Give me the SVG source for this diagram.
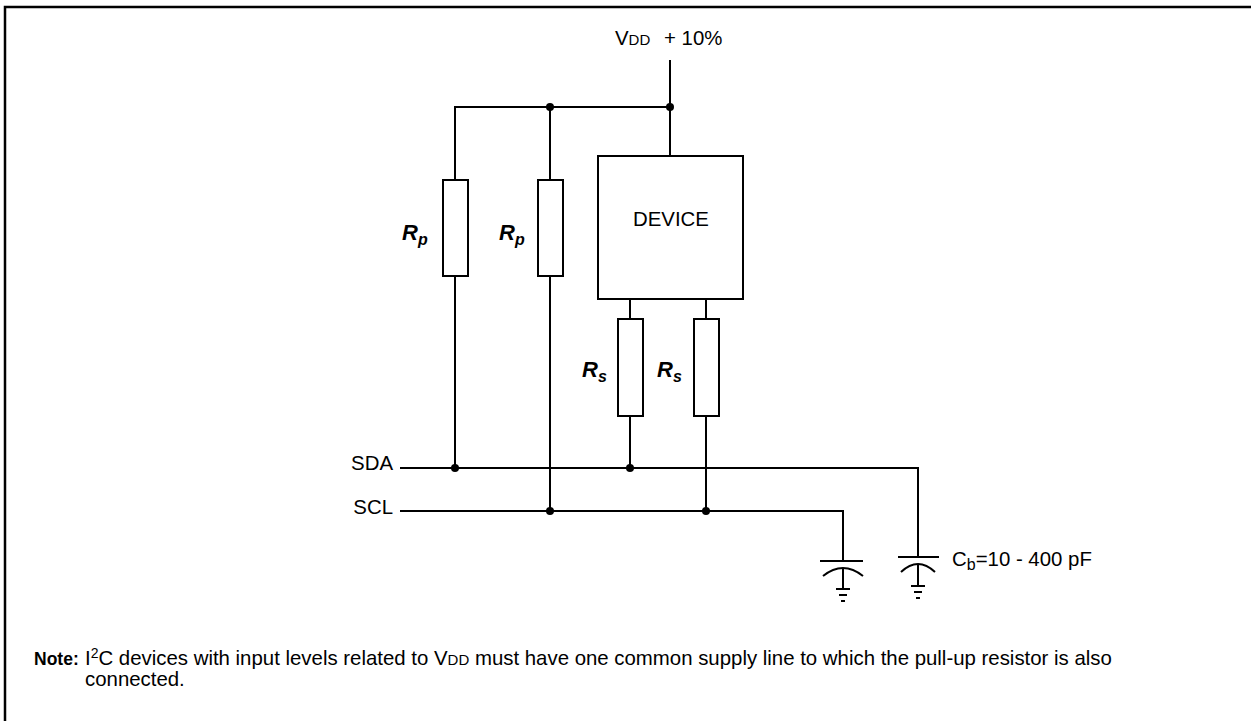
<svg xmlns="http://www.w3.org/2000/svg" width="1251" height="721" viewBox="0 0 1251 721">
<style>
  .w { fill: none; stroke: #000; stroke-width: 2; }
  .r { fill: #fff; stroke: #000; stroke-width: 2; }
  .d { fill: #000; }
  text { font-family: "Liberation Sans", Arial, sans-serif; font-size: 20.4px; fill: #000; }
  .lab { font-weight: bold; font-style: italic; font-size: 22px; }
  .sub { font-size: 16px; }
  .sc { font-size: 15px; }
  .note { font-weight: bold; font-size: 17.5px; }
</style>
<rect x="0" y="0" width="1251" height="721" fill="#fff"/>
<path d="M5,721 V7 H1251" fill="none" stroke="#000" stroke-width="2.5"/>

<g id="connectors">
  <path class="w" d="M670,60 V156"/>
  <path class="w" d="M455,180 V107 H670"/>
  <path class="w" d="M550,107 V180"/>
  <path class="w" d="M455,276 V468"/>
  <path class="w" d="M550,276 V511"/>
  <path class="w" d="M630,299 V319 M630,416 V468"/>
  <path class="w" d="M706,299 V319 M706,416 V511"/>
  <path class="w" d="M400,468 H918 V557"/>
  <path class="w" d="M400,511 H843 V561"/>
  <circle class="d" cx="670" cy="107" r="4"/>
  <circle class="d" cx="550" cy="107" r="4"/>
  <circle class="d" cx="455" cy="468" r="4"/>
  <circle class="d" cx="630" cy="468" r="4"/>
  <circle class="d" cx="550" cy="511" r="4"/>
  <circle class="d" cx="706" cy="511" r="4"/>
</g>

<g id="vdd">
  <text x="615" y="45">V<tspan class="sc">DD</tspan><tspan x="664">+ 10%</tspan></text>
</g>

<g id="rp1">
  <rect class="r" x="443" y="180" width="25" height="96"/>
  <text class="lab" x="402" y="240">R<tspan class="sub" dy="5">p</tspan></text>
</g>
<g id="rp2">
  <rect class="r" x="538" y="180" width="25" height="96"/>
  <text class="lab" x="499" y="240">R<tspan class="sub" dy="5">p</tspan></text>
</g>

<g id="device">
  <rect class="r" x="598" y="156" width="145" height="143"/>
  <text x="671" y="226" text-anchor="middle">DEVICE</text>
</g>

<g id="rs1">
  <rect class="r" x="618" y="319" width="25" height="97"/>
  <text class="lab" x="582" y="377">R<tspan class="sub" dy="5">s</tspan></text>
</g>
<g id="rs2">
  <rect class="r" x="694" y="319" width="25" height="97"/>
  <text class="lab" x="657" y="377">R<tspan class="sub" dy="5">s</tspan></text>
</g>

<g id="sda">
  <text x="393" y="470" text-anchor="end">SDA</text>
</g>
<g id="scl">
  <text x="393" y="514" text-anchor="end">SCL</text>
</g>

<g id="cap-scl">
  <path class="w" d="M820,561 H863"/>
  <path class="w" stroke-width="1.5" d="M823,576 Q843,560 863,576"/>
  <path class="w" d="M843,568 V589 M836,589 H850 M839,595 H847 M841,601 H845"/>
</g>
<g id="cap-sda">
  <path class="w" d="M898,557 H939"/>
  <path class="w" stroke-width="1.5" d="M901,572 Q918,556 935,572"/>
  <path class="w" d="M918,564 V586 M911,586 H925 M914,592 H922 M916,598 H920"/>
  <text x="952" y="566">C<tspan class="sub" dy="4">b</tspan><tspan dy="-4">=10 - 400 pF</tspan></text>
</g>

<g id="note">
  <text class="note" x="34" y="665">Note:</text>
  <text x="85" y="665">I<tspan font-size="14" dy="-7">2</tspan><tspan dy="7">C devices with input levels related to V</tspan><tspan class="sc">DD</tspan> must have one common supply line to which the pull-up resistor is also</text>
  <text x="85" y="686">connected.</text>
</g>
</svg>
